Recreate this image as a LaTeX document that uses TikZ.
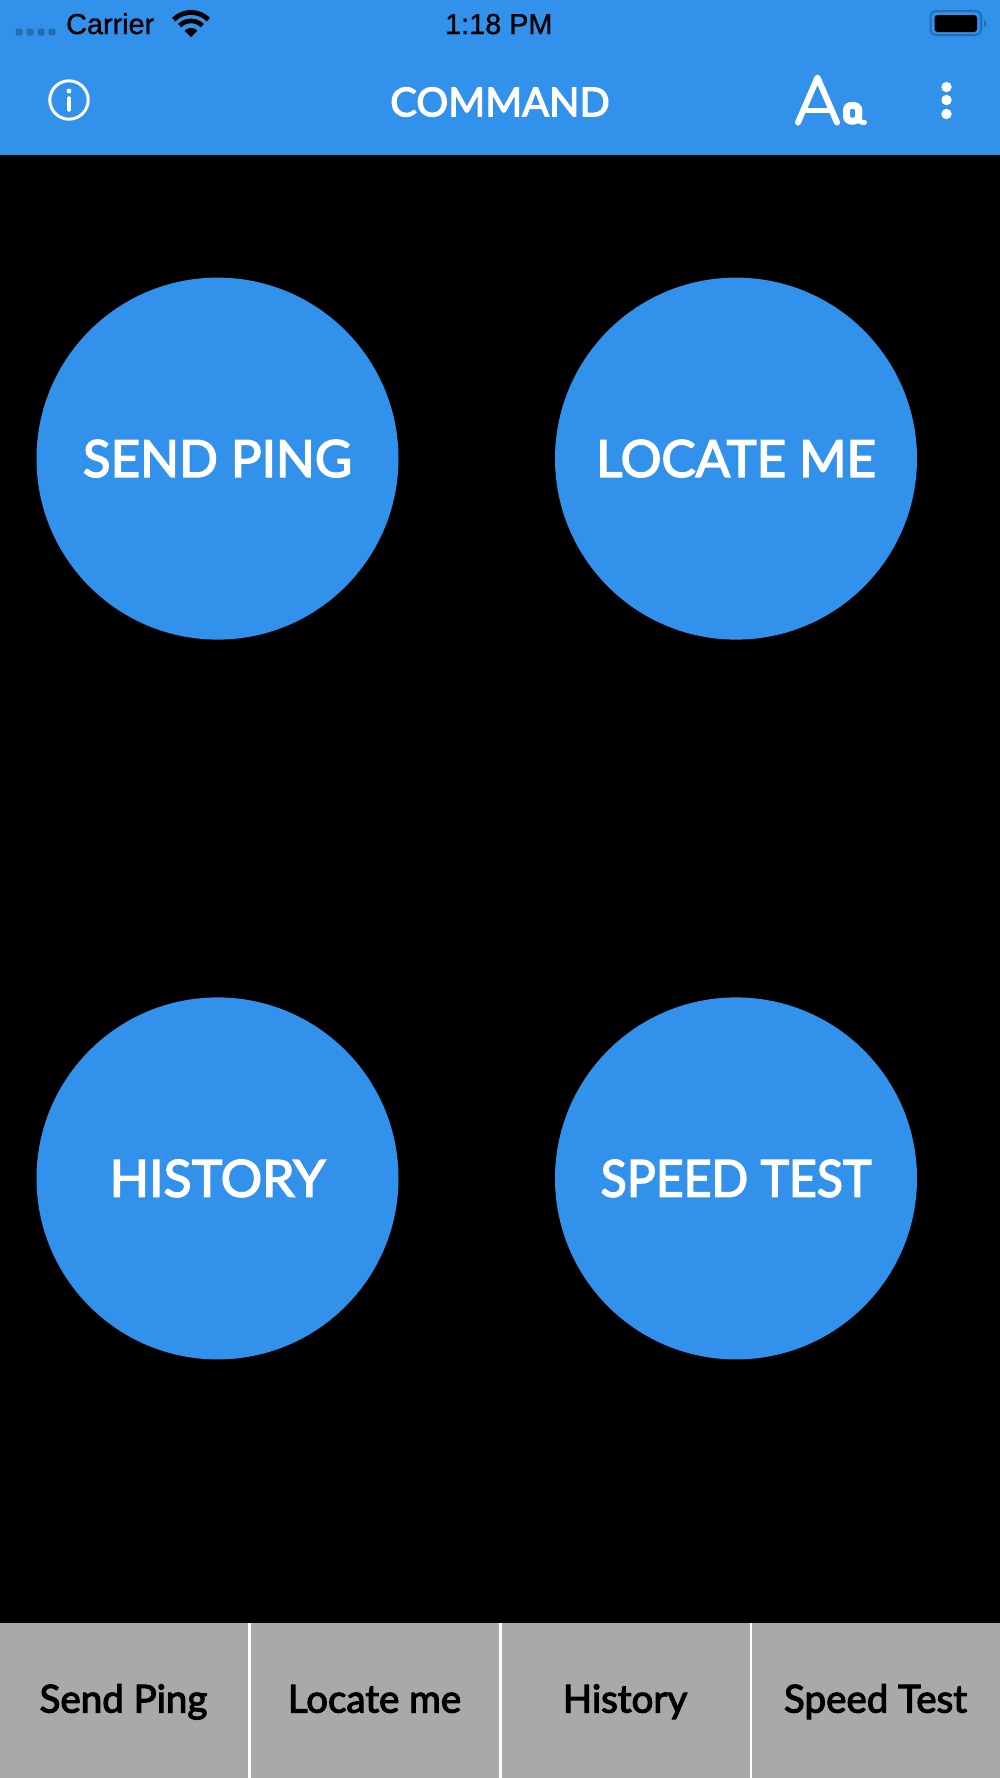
\documentclass[tikz,border=0pt]{standalone}
\usepackage{fontspec}
\usepackage{graphicx}
\setmainfont{Lato}
\newfontfamily\statusfont[FakeBold=1]{Liberation Sans}
\newfontfamily\uifont[FakeBold=3]{Lato}
\definecolor{appblue}{HTML}{3191EB}
\definecolor{tabgrey}{HTML}{A9A9A9}
\definecolor{dimblue}{HTML}{256DB0}
\tikzset{
 bigbtn/.style={circle,fill=appblue,draw=none,minimum size=362pt,inner sep=0pt,text=white,font=\uifont\fontsize{51}{51}\selectfont},
 tablabel/.style={text=black,inner sep=0pt,anchor=base,font=\uifont\fontsize{38.5}{38.5}\selectfont},
 statuslabel/.style={text=black,inner sep=0pt,anchor=base west,font=\statusfont\fontsize{28.8}{28.8}\selectfont},
 divider/.style={draw=white,line width=2.2pt},
 glyph/.style={draw=white,line cap=round,line join=round},
}
\begin{document}
\begin{tikzpicture}[x=1pt,y=-1pt]
\useasboundingbox (0,0) rectangle (1000,1778);
\fill[black] (0,0) rectangle (1000,1778);
\fill[appblue] (0,0) rectangle (1000,154.5);
\fill[tabgrey] (0,1623) rectangle (1000,1778);
% status bar
\foreach \x in {19,30,41,52}{\fill[dimblue,rounded corners=2pt] ({\x-3.5},28.5) rectangle ({\x+3.5},35.5);}
\node[statuslabel] (carrier) at (66,34) {Carrier};
\node[statuslabel] (clock) at (445,34) {1:18 PM};
\fill[black] (191,37) -- plot[domain=45:135,samples=12] ({191+9*cos(\x)},{37-9*sin(\x)}) -- cycle;
\draw[black,line width=4.6pt] plot[domain=45:135,samples=24] ({191+16*cos(\x)},{37-16*sin(\x)});
\draw[black,line width=4.8pt] plot[domain=45:135,samples=24] ({191+24.5*cos(\x)},{37-24.5*sin(\x)});
\draw[dimblue,line width=2pt,rounded corners=5pt] (930.5,11) rectangle (981,35);
\fill[black,rounded corners=3pt] (934.5,15) rectangle (977,32);
\fill[dimblue] (984,20) -- (986,21.5) -- (986,25.5) -- (984,27) -- cycle;
% header
\node[text=white,inner sep=0pt,font=\uifont\fontsize{39.8}{39.8}\selectfont] (title) at (500,102) {COMMAND};
\draw[glyph,line width=3pt] (69,100) circle (19.2);
\fill[white] (69,91) circle (2.4);
\draw[glyph,line width=3.4pt] (69,98) -- (69,110);
\draw[glyph,line width=6pt] (798,122.5) -- (817.5,77.5) -- (837,122.5);
\draw[glyph,line width=4.4pt] (806,110.5) -- (829,110.5);
\draw[glyph,line width=7pt,rounded corners=4pt] (846.5,105.5) rectangle (858.5,121);
\draw[glyph,line width=5pt] (859.5,108) -- (859.5,118) .. controls (859.5,122.5) and (862,123) .. (864.5,122.5);
\foreach \y in {87,100,114}{\fill[white] (946.5,\y) circle (5.2);}
% circles
\node[bigbtn] (ping) at (217.5,458.6) {SEND PING};
\node[bigbtn] (locate) at (736,458.6) {LOCATE ME};
\node[bigbtn] (history) at (217.5,1178.4) {\scalebox{1.015}[1]{HISTORY}};
\node[bigbtn] (speed) at (736,1178.4) {\scalebox{0.945}[1]{SPEED TEST}};
% tabs
\draw[divider] (249.5,1623) -- (249.5,1778);
\draw[divider] (500.5,1623) -- (500.5,1778);
\draw[divider] (751,1623) -- (751,1778);
\node[tablabel] (t1) at (123.5,1712.5) {Send Ping};
\node[tablabel] (t2) at (374.5,1712.5) {Locate me};
\node[tablabel] (t3) at (625,1712.5) {History};
\node[tablabel] (t4) at (875.5,1712.5) {Speed Test};
\end{tikzpicture}
\end{document}
